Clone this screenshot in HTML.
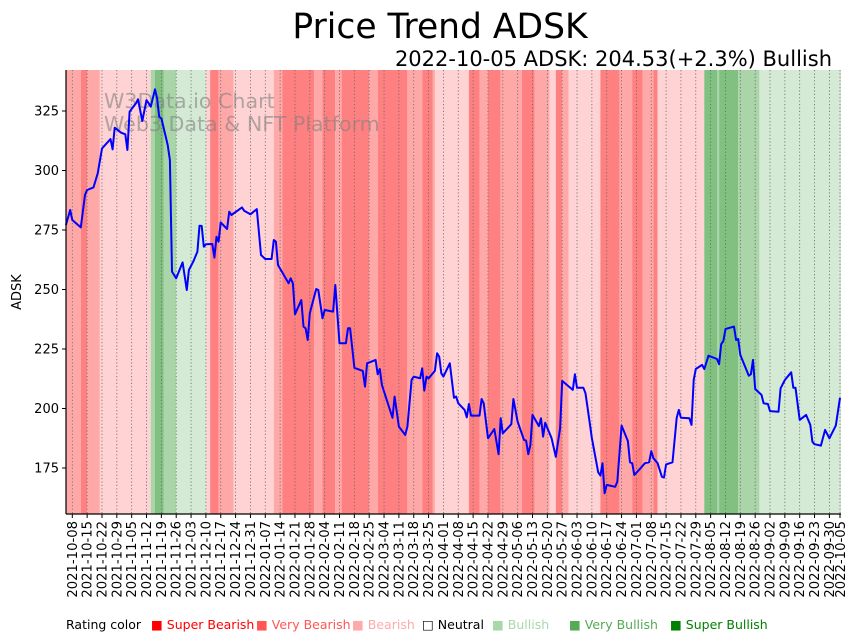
<!DOCTYPE html>
<html><head><meta charset="utf-8"><style>
body{margin:0;background:#fff;}
svg{display:block;font-family:"DejaVu Sans","Liberation Sans",sans-serif;}
</style></head><body>
<svg id="chart" width="859" height="641" viewBox="0 0 859 641" xmlns="http://www.w3.org/2000/svg">
<text x="440" y="38" font-size="34.5" text-anchor="middle" fill="#000">Price Trend ADSK</text>
<text x="832" y="66" font-size="21" text-anchor="end" fill="#000">2022-10-05 ADSK: 204.53(+2.3%) Bullish</text>
<g id="bands"></g>
<g id="grid"></g>
<text x="104" y="108" font-size="20.6" fill="#808080" fill-opacity="0.6">W3Data.io Chart</text>
<text x="104" y="131" font-size="20.6" fill="#808080" fill-opacity="0.6">Web3 Data &amp; NFT Platform</text>
<path id="line" fill="none" stroke="#0000ff" stroke-width="2" stroke-linejoin="round"></path>
<g id="axes"></g>
<text transform="translate(21,292) rotate(-90)" font-size="13" text-anchor="middle">ADSK</text>
<g font-size="12.5">
<text x="66" y="629" fill="#000">Rating color</text>
<text x="151" y="629" fill="#ff0000">■ Super Bearish</text>
<text x="256" y="629" fill="#ff5555">■ Very Bearish</text>
<text x="352" y="629" fill="#ffaaaa">■ Bearish</text>
<text x="422" y="629" fill="#000">□ Neutral</text>
<text x="492" y="629" fill="#a8d8a8">■ Bullish</text>
<text x="569" y="629" fill="#55aa55">■ Very Bullish</text>
<text x="670" y="629" fill="#008000">■ Super Bullish</text>
</g>
</svg>
<script>
const priceDates=["2021-10-05","2021-10-07","2021-10-08","2021-10-12","2021-10-14","2021-10-15","2021-10-18","2021-10-20","2021-10-22","2021-10-26","2021-10-27","2021-10-28","2021-10-31","2021-11-02","2021-11-03","2021-11-04","2021-11-07","2021-11-08","2021-11-10","2021-11-12","2021-11-14","2021-11-16","2021-11-17","2021-11-18","2021-11-19","2021-11-22","2021-11-23","2021-11-24","2021-11-26","2021-11-29","2021-12-01","2021-12-02","2021-12-04","2021-12-06","2021-12-07","2021-12-08","2021-12-09","2021-12-10","2021-12-13","2021-12-14","2021-12-15","2021-12-16","2021-12-17","2021-12-20","2021-12-21","2021-12-22","2021-12-27","2021-12-28","2021-12-31","2022-01-03","2022-01-05","2022-01-07","2022-01-10","2022-01-11","2022-01-12","2022-01-13","2022-01-18","2022-01-19","2022-01-20","2022-01-21","2022-01-24","2022-01-25","2022-01-26","2022-01-27","2022-01-28","2022-01-31","2022-02-01","2022-02-03","2022-02-04","2022-02-08","2022-02-09","2022-02-11","2022-02-14","2022-02-15","2022-02-16","2022-02-18","2022-02-22","2022-02-23","2022-02-24","2022-02-28","2022-03-01","2022-03-02","2022-03-03","2022-03-08","2022-03-09","2022-03-11","2022-03-14","2022-03-15","2022-03-17","2022-03-18","2022-03-21","2022-03-22","2022-03-23","2022-03-24","2022-03-25","2022-03-28","2022-03-29","2022-03-30","2022-03-31","2022-04-01","2022-04-04","2022-04-06","2022-04-07","2022-04-08","2022-04-11","2022-04-12","2022-04-13","2022-04-14","2022-04-18","2022-04-19","2022-04-20","2022-04-22","2022-04-25","2022-04-27","2022-04-28","2022-04-29","2022-05-03","2022-05-04","2022-05-06","2022-05-09","2022-05-10","2022-05-11","2022-05-12","2022-05-13","2022-05-16","2022-05-17","2022-05-18","2022-05-19","2022-05-22","2022-05-24","2022-05-26","2022-05-27","2022-06-01","2022-06-02","2022-06-03","2022-06-06","2022-06-07","2022-06-09","2022-06-10","2022-06-13","2022-06-14","2022-06-15","2022-06-16","2022-06-17","2022-06-21","2022-06-22","2022-06-24","2022-06-27","2022-06-28","2022-06-29","2022-06-30","2022-07-03","2022-07-05","2022-07-07","2022-07-08","2022-07-09","2022-07-11","2022-07-13","2022-07-14","2022-07-15","2022-07-18","2022-07-20","2022-07-21","2022-07-22","2022-07-26","2022-07-27","2022-07-28","2022-07-29","2022-08-01","2022-08-02","2022-08-04","2022-08-08","2022-08-09","2022-08-10","2022-08-11","2022-08-12","2022-08-16","2022-08-17","2022-08-18","2022-08-19","2022-08-23","2022-08-24","2022-08-25","2022-08-26","2022-08-29","2022-08-30","2022-09-01","2022-09-02","2022-09-06","2022-09-07","2022-09-09","2022-09-12","2022-09-13","2022-09-14","2022-09-16","2022-09-19","2022-09-21","2022-09-22","2022-09-23","2022-09-26","2022-09-28","2022-09-29","2022-09-30","2022-10-03","2022-10-05"];
const priceValues=[277.1,283.4,279.2,276.1,289.7,291.8,292.9,298.8,309.3,313.2,308.9,318.0,315.9,315.2,308.6,324.7,328.2,329.9,320.8,329.6,326.8,334.1,330.3,322.6,321.9,310.7,304.4,257.5,254.7,261.4,249.8,258.2,261.7,265.9,276.8,276.7,268.0,269.0,269.1,263.4,272.2,270.1,278.2,275.4,282.7,281.3,284.5,283.1,281.6,283.8,264.5,262.8,262.8,270.8,270.1,260.3,252.6,254.7,252.6,239.6,245.6,234.4,233.7,228.8,240.0,250.2,249.8,237.9,241.4,240.7,251.9,227.4,227.4,233.7,233.7,217.1,215.8,209.2,219.0,220.4,214.4,216.6,209.9,196.1,205.0,192.4,188.9,192.4,212.0,213.4,212.7,216.9,207.5,213.4,212.7,215.8,223.2,221.8,214.8,213.4,219.0,204.5,205.0,202.2,199.4,196.3,201.9,197.0,197.0,204.0,202.2,187.5,191.4,180.8,195.9,189.6,193.4,204.0,194.5,186.8,186.5,180.8,184.7,197.3,192.6,195.9,188.2,194.0,187.5,179.7,191.7,211.6,207.8,214.4,208.7,208.7,206.4,193.8,187.5,173.2,171.8,177.0,164.4,167.9,167.1,169.2,192.8,186.3,177.4,177.0,172.1,174.9,177.0,177.4,182.1,179.1,177.0,171.3,171.0,176.5,177.4,196.1,199.4,196.1,195.9,193.1,212.0,216.6,218.3,216.6,222.2,220.8,218.6,227.0,228.4,233.4,234.4,228.8,229.2,222.5,213.8,214.4,220.4,208.2,205.7,202.2,201.9,198.9,198.6,208.5,212.0,215.2,208.7,208.7,195.2,197.3,193.1,186.0,185.0,184.4,191.0,189.2,187.5,192.8,204.5];
const bandStarts=["2021-10-05","2021-10-12","2021-10-15","2021-10-21","2021-11-14","2021-11-16","2021-11-20","2021-11-26","2021-12-10","2021-12-12","2021-12-16","2021-12-23","2022-01-11","2022-01-15","2022-01-30","2022-02-03","2022-02-09","2022-02-12","2022-02-25","2022-03-01","2022-03-15","2022-03-22","2022-03-27","2022-03-28","2022-04-13","2022-04-18","2022-04-22","2022-04-28","2022-05-08","2022-05-14","2022-05-21","2022-05-24","2022-05-27","2022-05-30","2022-06-14","2022-06-23","2022-06-29","2022-07-04","2022-07-09","2022-07-11","2022-08-02","2022-08-08","2022-08-09","2022-08-18","2022-08-28"];
const bandRatings=[-2,-3,-2,-1,2,3,2,1,-1,-3,-2,-1,-2,-3,-2,-3,-2,-3,-2,-3,-2,-3,-2,-1,-3,-2,-3,-2,-3,-2,-1,-3,-2,-1,-3,-2,-3,-2,-3,-1,3,2,3,2,1];
const bandEnd="2022-10-06";
const yTicks=[175,200,225,250,275,300,325];
const xTickFirst="2021-10-08", xTickLastExtra="2022-10-05";

const NS="http://www.w3.org/2000/svg";
const L=66,R=841,T=70,B=514;
const DAY=86400000;
const d0=Date.parse(xTickFirst);
function xs(s){return 72.3+(Date.parse(s)-d0)/DAY*2.1207;}
function ys(v){return 468-(v-175)*2.38;}
const colors={"-3":"#ff8080","-2":"#ffa8a8","-1":"#ffd3d3","1":"#d5ead5","2":"#a9d5a9","3":"#80c080"};
function mk(tag,attrs,parent){const e=document.createElementNS(NS,tag);for(const k in attrs)e.setAttribute(k,attrs[k]);parent.appendChild(e);return e;}

const bands=document.getElementById('bands');
bandStarts.forEach((s,i)=>{
  const x1=Math.max(L,xs(s));
  const x2=Math.min(R,xs(i+1<bandStarts.length?bandStarts[i+1]:bandEnd));
  const r=mk('rect',{x:x1,y:T,width:Math.max(0,x2-x1),height:B-T,fill:colors[bandRatings[i]]},bands);
  
  
});

const tickDates=[];
for(let t=d0;t<=Date.parse("2022-10-01");t+=7*DAY){tickDates.push(new Date(t).toISOString().slice(0,10));}
tickDates.push(xTickLastExtra);
const grid=document.getElementById('grid');
const axes=document.getElementById('axes');
tickDates.forEach((s,i)=>{
  const x=xs(s);
  const g=mk('line',{x1:x,x2:x,y1:T,y2:B,stroke:"#666",'stroke-width':0.8,'stroke-dasharray':"1.2,2.2"},grid);
  
  
  const tk=mk('line',{x1:x,x2:x,y1:B,y2:B+4,stroke:"#000",'stroke-width':1},axes);
  
  
  const off=(i===tickDates.length-1)?0.4:0;
  const lb=mk('text',{transform:`translate(${x+4.5+off},${B+7}) rotate(-90)`,'font-size':13.2,'text-anchor':'end',fill:'#000'},axes);
  lb.textContent=s;
  
  
});
yTicks.forEach(v=>{
  const y=ys(v);
  const tk=mk('line',{x1:L-4,x2:L,y1:y,y2:y,stroke:"#000",'stroke-width':1},axes);
  
  
  const lb=mk('text',{x:L-7,y:y+4.5,'font-size':13,'text-anchor':'end',fill:'#000'},axes);
  lb.textContent=v;
  
  
});
const ax1=mk('line',{x1:L,x2:L,y1:T,y2:B,stroke:"#000",'stroke-width':1.2},axes);


const ax2=mk('line',{x1:L,x2:R,y1:B,y2:B,stroke:"#000",'stroke-width':1.2},axes);



let d="";
priceDates.forEach((s,i)=>{d+=(i?"L":"M")+xs(s).toFixed(1)+","+ys(priceValues[i]).toFixed(1);});
document.getElementById('line').setAttribute('d',d);
</script>
</body></html>
